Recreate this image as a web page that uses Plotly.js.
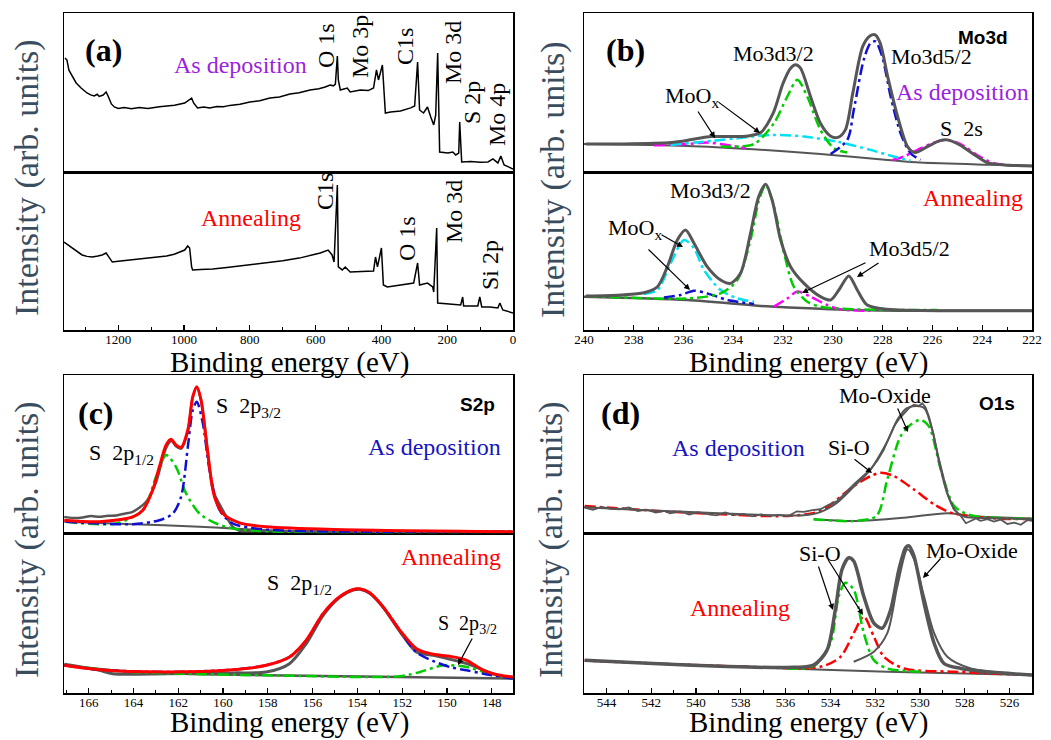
<!DOCTYPE html>
<html><head><meta charset="utf-8">
<script src="https://cdn.plot.ly/plotly-3.0.1.min.js"></script>
<style>body{margin:0;background:#fff}#chart{width:1051px;height:740px}</style>
</head><body><div id="chart"></div>
<script>
// ---------------- DATA (binding energy in eV, intensity in arb. units 0-100 per sub-panel) ----------------
// (a) survey, as deposition
const aTopE=[1362,1356,1350,1340,1328,1313,1295,1284,1273,1264,1258,1246,1237,1231,1221,1212,1200,1182,1160,1136,1110,1075,1050,1029,998,983,977,971,959,940,922,900,880,861,830,800,770,739,710,678,650,617,590,571,556,546,540,534,531,525,504,495,480,464,440,424,415,409,397,388,372,342,311,299,290,284,272,260,250,241,235,229,223,198,183,174,165,162,156,128,100,76,61,46,37,27,12,0];
const aTopI=[71.7,70.4,64,60,56,52.8,49.7,48.5,47.8,48.9,47.5,48.4,50.3,47.8,42.8,40.9,40.0,40.6,39.8,40.5,40.0,41.0,41.3,42.0,43.4,45.3,46.5,43.4,40.3,40.8,40.2,41.2,41.0,41.9,42.6,44.0,44.8,46.5,47.2,49.0,49.8,51.6,52.4,53.5,54.7,54.2,55.3,73,57.9,51.6,52.8,50.3,51.0,51.6,51.2,52.8,64.2,57.9,67.3,37.1,37.7,38.4,40.3,41.5,69.2,39,37.1,40.9,34.6,29.6,35.8,74.8,12.6,11.9,12.6,10.7,11.9,31.4,6.3,6.6,6.2,6.3,8.2,5.7,10,4.4,3.1,1.9];
// (a) survey, annealing
const aBotE=[1365,1340,1319,1310,1295,1279,1262,1249,1237,1227,1218,1200,1180,1157,1120,1090,1053,1030,1014,998,989,983,977,974,950,913,870,830,790,748,700,650,610,586,562,550,544,534,531,519,510,495,460,424,418,412,400,394,382,340,302,290,284,260,244,241,232,229,200,159,153,150,107,101,95,70,46,40,31,15,0];
const aBotI=[55.7,51.9,48.7,47.5,46.6,46.2,46.9,47.5,48.7,45.6,43,43.5,43.9,44.3,45.0,45.8,46.8,48.0,49.4,50.6,53.2,51.9,39.9,38,38.3,38.6,39.6,40.6,41.7,42.4,43.8,45.5,47.4,48.7,50.6,47.5,43,91.8,39.9,38,39.9,36.7,37.0,37.3,46.2,39.9,51.9,28.5,27.2,28.3,29.7,42.4,28.5,29.7,27.2,24,64.6,17.1,16.4,15.8,20.9,15.2,15.2,20.9,14.6,14.5,13.9,17.1,12.7,11.9,10.8];
const aTopLabels=["O 1s","Mo 3p","C1s","Mo 3d","S 2p","Mo 4p"];
const aBotLabels=["C1s","O 1s","Mo 3d","Si 2p"];

// (b) Mo3d, as deposition
const bTopEnvE=[239.93,238.5,236.5,235.6,234.9,234.2,233.4,232.9,232.4,232.0,231.7,231.5,231.3,230.9,230.5,230.1,229.8,229.5,229.2,228.8,228.5,228.3,228.1,227.8,227.4,227.0,226.7,226.2,225.7,225.4,224.9,224.3,223.8,223.1,222.0];
const bTopEnvI=[17.6,17.6,18.5,20.6,22.3,22.3,22.7,24.8,37,55.9,65.3,67.4,65.3,47.5,30.7,22.7,21.8,26.5,49.6,79,85.7,86.3,81.1,60.1,34.9,16,12.2,16,19.7,20.2,17,10.7,5.9,4.4,3.8];
const bTopBgE=[240,235.85,233.2,230.5,227.8,226.5,223.8,222];
const bTopBgI=[17.6,16.4,14.3,11.3,7.6,5.9,4.6,4.0];
const bTopCyanE=[236.52,234.78,233.84,232.5,231.16,229.83,228.49,227.55,226.88];
const bTopCyanI=[17.0,19.7,21.2,23.3,22.3,19.1,13.9,9.7,7.1];
const bTopMagE=[237.19,235.85,235.05,234.24,233.5,null,227.6,227.15,226.48,225.81,225.41,224.87,224.21,223.53,222.73];
const bTopMagI=[16.8,17.6,18.5,17.0,15.0,null,7.6,9.7,14.9,19.1,20.2,17.6,10.7,5.5,4.2];
const bTopGreenE=[234.51,233.17,232.37,231.83,231.43,231.03,230.5,229.96,229.42];
const bTopGreenI=[16.0,17.6,30.7,47.5,58.0,47.5,26.5,14.9,12.2];
const bTopBlueE=[230.09,229.42,229.16,228.76,228.49,228.29,228.02,227.68,227.28,226.88,226.48];
const bTopBlueI=[11.3,20.2,39.1,70.6,81.1,82.1,72.7,47.5,24.4,11.8,7.6];
// (b) Mo3d, annealing
const bBotEnvE=[239.93,238.53,237.59,237.05,236.65,236.25,235.92,235.58,235.05,234.51,234.11,233.71,233.31,232.98,232.70,232.44,232.10,231.70,231.16,230.50,230.09,229.76,229.36,229.02,228.62,227.82,225.14,222];
const bBotEnvI=[21.5,22.2,23.6,27.4,40.1,57.0,63.3,54.9,40.1,31.6,29.5,35.9,61.2,84.4,92.2,82.3,57.0,40.1,29.5,21.1,19.0,25.3,34.2,25.3,15.8,13.1,12.2,12.2];
const bBotBgE=[240,235.85,232.5,229.16,226.48,222];
const bBotBgI=[21.1,19.0,14.8,12.7,12.2,12.2];
const bBotCyanE=[237.59,237.05,236.52,235.98,235.58,235.18,234.51,233.84,233.17];
const bBotCyanI=[22.8,25.3,42.2,57.0,51.7,38.0,25.3,20.0,17.9];
const bBotBlueE=[236.79,236.12,235.58,235.05,234.24,233.17];
const bBotBlueI=[20.5,22.2,24.9,23.2,19.0,16.5];
const bBotGreenE=[239.87,235.85,234.51,233.84,233.31,232.97,232.70,232.37,231.96,231.57,231.03,230.5,229.16,225.81];
const bBotGreenI=[21.5,20.0,23.2,31.6,57.0,82.3,91.8,78.1,48.5,27.4,17.9,14.8,13.1,12.7];
const bBotMagE=[232.37,231.83,231.43,230.90,230.23,229.70,228.49];
const bBotMagI=[14.8,20.0,24.3,21.1,15.8,13.1,12.2];

// (c) S2p, as deposition
const cTopRedE=[167.09,165.52,164.03,163.58,163.14,162.84,162.54,162.32,162.10,161.87,161.57,161.35,161.17,160.98,160.68,160.38,160.01,159.26,158.07,155.08,147.06];
const cTopRedI=[8.4,7.4,10.5,14.7,27.4,42.1,55.8,59.4,55.8,54.3,65.3,86.3,92.6,84.2,50.5,23.2,12.6,6.7,4.2,2.5,1.1];
const cTopGrayE=[167.09,166.7,166.27,165.9,165.52,165.15,164.78,164.4,164.03,163.43,163.0,162.54,162.3,162.1,161.87,161.57,161.35,161.17,160.98,160.68,160.45,160.01,159.56,159.26,158.5,157,155,152,150,147.06];
const cTopGrayI=[10.5,9.8,10.1,11.0,10.5,11.2,11.4,12.5,13.7,20.0,32.0,54.0,58.5,55.0,53.5,64.5,86.0,92.0,84.0,52.0,27.4,14.7,4.2,1.7,1.5,1.3,1.2,1.1,1.1,1.0];
const cTopBgE=[167.09,164.03,161.05,159.56,157,147.06];
const cTopBgI=[7.4,5.9,4.2,3.2,1.5,1.1];
const cTopGreenE=[167.01,164.78,163.58,162.99,162.54,162.10,161.65,161.05,160.30,159.26,147.06];
const cTopGreenI=[7.4,6.3,14.7,35.8,49.5,42.1,25.3,12.6,6.3,2.5,1.1];
const cTopBlueE=[167.01,164.03,162.84,162.24,161.87,161.57,161.35,161.17,160.90,160.60,160.15,159.56,158.07,147.06];
const cTopBlueI=[7.4,5.9,8.4,12.6,23.2,54.7,77.9,83.2,69.5,40.0,14.7,6.3,2.5,1.1];
// (c) S2p, annealing
const cBotRedE=[167.09,165.52,162.54,159.56,158.07,157.03,156.28,155.53,154.79,154.19,153.89,153.45,152.85,152.10,151.36,150.61,149.87,149.12,148.37,147.63,147.06];
const cBotRedI=[17.4,14.6,13.2,14.6,17.4,22.6,33.1,49.8,60.3,64.9,65.3,62.8,54.0,39.3,27.8,24.3,23.0,20.5,14.2,11.1,10.0];
const cBotBlueE=[167.09,165.52,162.54,159.56,158.07,157.03,156.28,155.53,154.79,154.19,153.89,153.45,152.85,152.10,151.36,150.61,149.87,149.12,148.37,147.06];
const cBotBlueI=[17.4,14.6,13.2,14.6,17.4,22.6,33.1,49.8,60.3,64.9,65.3,62.8,54.0,39.3,25.5,20.0,16.3,14.2,12.1,9.0];
const cBotGrayE=[167.09,165.52,164.93,162.54,159.56,158.07,157.03,156.28,155.53,154.79,154.19,153.89,153.45,152.85,152.10,151.36,150.61,149.12,147.63,147.06];
const cBotGrayI=[18.0,14.2,12.1,12.1,12.6,13.2,18.4,31.0,48.7,60.0,64.5,65.0,62.5,53.8,38.5,25.7,23.6,18.4,10.5,10.0];
const cBotBgE=[167.09,164.03,158.07,147.06];
const cBotBgI=[17.4,13.2,11.1,9.0];
const cBotGreenE=[167.09,164.03,158.07,152.1,151.2,150.15,149.12,148.37,147.06];
const cBotGreenI=[17.4,13.2,11.1,10.5,13.2,17.4,16.3,13.2,9.0];

// (d) O1s, as deposition
const dTopDataE=[544.97,544.6,544.2,543.8,543.4,543.0,542.6,542.2,541.8,541.4,541.16,540.7,540.3,539.9,539.5,539.1,538.7,538.3,537.9,537.5,537.1,536.7,536.3,535.9,535.5,535.19,534.8,534.45,534.1,533.7,533.3,532.96,532.6,532.21,531.9,531.61,531.4,531.16,530.95,530.72,530.5,530.27,530.05,529.9,529.75,529.6,529.4,529.22,529.0,528.78,528.5,528.18,527.95,527.73,527.5,527.3,526.99,526.7,526.4,526.1,525.79,525.5,525.2,524.97];
const dTopDataI=[16.3,15.0,16.8,15.5,15.3,16.5,14.2,15.0,13.2,14.3,12.8,13.9,12.0,13.5,12.2,11.5,13.3,11.6,12.4,10.8,12.0,11.1,11.8,10.9,14.0,13.6,14.8,15.3,18.0,20.5,26.0,31.0,35.5,40.4,46.0,52.9,60.0,67.6,72.0,75.9,79.0,81.2,80.5,82.2,79.5,73.8,63.0,50.8,38.0,25.7,15.5,11.1,6.5,7.9,9.5,8.0,9.0,7.5,8.8,6.0,6.9,5.5,8.5,7.9];
const dTopFitE=[545,542,539,536.5,535.2,534.45,533.7,532.96,532.2,531.46,531.0,530.6,530.15,529.8,529.45,529.1,528.78,528.4,528.0,527.0,525];
const dTopFitI=[16.5,14.5,12.8,11.5,11.5,13.5,19.5,29.5,40.5,58.0,72.0,79.0,80.5,79.0,65.0,42.0,25.0,14.0,10.5,9.8,9.2];
const dTopRedE=[544.97,540.42,535.94,534.45,532.96,532.21,531.76,531.16,530.27,529.37,528.63,527,524.97];
const dTopRedI=[17.4,13.2,11.1,14.2,29.9,36.2,38.3,36.2,27.8,18.4,13.2,9.8,9.0];
const dTopGreenE=[534.75,532.96,531.94,531.46,530.87,530.42,529.97,529.60,529.07,528.48,527.73,524.97];
const dTopGreenI=[9.0,7.9,11.1,34.1,61.3,68.6,71.8,67.6,40.4,17.4,11.5,9.4];
const dTopBgE=[534.75,532.96,530.72,528.78,527.73,524.97];
const dTopBgI=[9.0,7.9,10.0,12.8,11.1,9.4];
// (d) O1s, annealing
const dBotEnvE=[544.97,541.91,538.93,535.94,534.75,534.15,533.78,533.48,533.18,532.96,532.51,532.06,531.69,531.31,530.94,530.64,530.49,530.27,529.82,529.37,528.93,528.18,526.99,524.97];
const dBotEnvI=[20.6,18.5,16.8,16.0,17.5,26.9,52.2,77.5,84.8,82.7,60.6,43.8,40.6,52.2,77.5,91.2,92.2,85.9,56.4,31.2,18.5,15.4,13.3,11.2];
const dBotMoE=[532.96,532.06,531.46,531.01,530.56,530.27,529.82,529.37,528.78,527.73,524.97];
const dBotMoI=[19.6,25.9,37.5,67.0,90.1,84.0,60.6,37.5,22.7,15.4,11.2];
const dBotBgE=[544.97,535.94,531.46,524.97];
const dBotBgI=[20.2,15.4,13.3,11.2];
const dBotGreenE=[535.94,534.75,534.00,533.63,533.33,532.96,532.51,532.06,531.46,529.97];
const dBotGreenI=[15.4,16.8,31.2,60.6,69.1,64.8,37.5,20.6,15.4,13.3];
const dBotRedE=[544.97,538,534.45,533.55,532.96,532.51,532.06,531.61,530.72,528.48,524.97];
const dBotRedI=[20.4,16.6,16.4,22.7,37.5,48.0,35.4,22.7,15.4,13.3,11.2];

// ---------------- STYLE / LAYOUT ----------------
const W=1051,H=740;
const SERIF='Liberation Serif, Times New Roman, serif';
const SANS='Liberation Sans, Arial, sans-serif';
const GRAY='#565656', GREEN='#00cc00', BLUE='#1010d0', CYAN='#00e0f0', MAG='#ff00ff', RED='#ff0000';
const DD='11px,4px,3px,4px';

function tr(x,y,ax,color,width,dash,shape){
  return {x:x,y:y,xaxis:'x'+ax,yaxis:'y'+ax,type:'scatter',mode:'lines',hoverinfo:'skip',showlegend:false,
    connectgaps:false,line:{color:color,width:width,dash:dash||'solid',shape:shape||'spline',smoothing:0.8}};
}
// axis ids: '' a-bottom,2 a-top,3 b-bottom,4 b-top,5 c-bottom,6 c-top,7 d-bottom,8 d-top
const traces=[
  tr(aTopE,aTopI,'2','#000',1.5,null,'linear'),
  tr(aBotE,aBotI,'','#000',1.5,null,'linear'),

  tr(bTopBgE,bTopBgI,'4',GRAY,2),
  tr(bTopMagE,bTopMagI,'4',MAG,2.5,DD),
  tr(bTopCyanE,bTopCyanI,'4',CYAN,2.5,DD),
  tr(bTopGreenE,bTopGreenI,'4',GREEN,2.5,DD),
  tr(bTopBlueE,bTopBlueI,'4',BLUE,2.5,DD),
  tr(bTopEnvE,bTopEnvI,'4',GRAY,3),

  tr(bBotBgE,bBotBgI,'3',GRAY,2.5),
  tr(bBotMagE,bBotMagI,'3',MAG,2.5,DD),
  tr(bBotBlueE,bBotBlueI,'3',BLUE,2.5,DD),
  tr(bBotCyanE,bBotCyanI,'3',CYAN,2.5,DD),
  tr(bBotGreenE,bBotGreenI,'3',GREEN,2.5,DD),
  tr(bBotEnvE,bBotEnvI,'3',GRAY,3),

  tr(cTopBgE,cTopBgI,'6',GRAY,2),
  tr(cTopGrayE,cTopGrayI,'6',GRAY,2.5),
  tr(cTopGreenE,cTopGreenI,'6',GREEN,2.5,DD),
  tr(cTopBlueE,cTopBlueI,'6',BLUE,2.5,DD),
  tr(cTopRedE,cTopRedI,'6',RED,3),

  tr(cBotBgE,cBotBgI,'5',GRAY,2.5),
  tr(cBotGrayE,cBotGrayI,'5',GRAY,3),
  tr(cBotGreenE,cBotGreenI,'5',GREEN,2.5,DD),
  tr(cBotBlueE,cBotBlueI,'5',BLUE,2.5,DD),
  tr(cBotRedE,cBotRedI,'5',RED,3),

  tr(dTopBgE,dTopBgI,'8',GRAY,2),
  tr(dTopRedE,dTopRedI,'8',RED,2.5,DD),
  tr(dTopGreenE,dTopGreenI,'8',GREEN,2.5,DD),
  tr(dTopFitE,dTopFitI,'8',GRAY,2),
  tr(dTopDataE,dTopDataI,'8',GRAY,1.8,null,'linear'),

  tr(dBotBgE,dBotBgI,'7',GRAY,2),
  tr(dBotRedE,dBotRedI,'7',RED,2.5,DD),
  tr(dBotGreenE,dBotGreenI,'7',GREEN,2.5,DD),
  tr(dBotMoE,dBotMoI,'7',GRAY,2),
  tr(dBotEnvE,dBotEnvI,'7',GRAY,3.5)
];

function dx(p0,p1){return [p0/W,p1/W];}
function dy(p0,p1){return [1-p1/H,1-p0/H];}
const colA=dx(64,513), colB=dx(584,1032);
const rTT=dy(13,172), rTB=dy(172,330), rBT=dy(375,533.5), rBB=dy(533.5,693);

function xBottom(dom,anchor,range,dt,mdt){
  return {domain:dom,anchor:anchor,range:range,autorange:false,showgrid:false,zeroline:false,
    showline:true,mirror:true,linecolor:'#000',linewidth:1.5,
    ticks:'inside',ticklen:5,tickwidth:1.2,tickcolor:'#000',dtick:dt,tick0:0,ticklabelstandoff:-3,
    minor:{ticks:'inside',ticklen:3,tickwidth:1,tickcolor:'#000',dtick:mdt,showgrid:false},
    tickfont:{family:SERIF,size:13,color:'#000'},fixedrange:true};
}
function xTop(dom,anchor,match,range){
  return {domain:dom,anchor:anchor,matches:match,range:range,showgrid:false,zeroline:false,
    showline:true,mirror:true,linecolor:'#000',linewidth:1.5,ticks:'',showticklabels:false,fixedrange:true};
}
function yAx(dom,anchor){
  return {domain:dom,anchor:anchor,range:[0,100],showgrid:false,zeroline:false,showline:true,mirror:true,
    linecolor:'#000',linewidth:1.5,ticks:'',showticklabels:false,fixedrange:true};
}

const ann=[];
function txt(x,y,text,family,size,color,extra){
  ann.push(Object.assign({xref:'paper',yref:'paper',x:x/W,y:1-y/H,xanchor:'center',yanchor:'middle',
    text:text,showarrow:false,font:{family:family,size:size,color:color}},extra||{}));
}
function arr(x0,y0,x1,y1){
  ann.push({xref:'paper',yref:'paper',x:x1/W,y:1-y1/H,ax:x0-x1,ay:y0-y1,axref:'pixel',ayref:'pixel',
    text:'',showarrow:true,arrowhead:2,arrowsize:1,arrowwidth:1.2,arrowcolor:'#000'});
}
const YT='#3a4d5e';
const L=22; // label size
// axis titles
txt(289,362,'Binding energy (eV)',SERIF,29,'#000');
txt(808,362,'Binding energy (eV)',SERIF,29,'#000');
txt(289,722,'Binding energy (eV)',SERIF,29,'#000');
txt(808,722,'Binding energy (eV)',SERIF,29,'#000');
txt(27,178,'Intensity (arb. units)',SERIF,34,YT,{textangle:-90});
txt(553,180,'Intensity (arb. units)',SERIF,34,YT,{textangle:-90});
txt(27,540,'Intensity (arb. units)',SERIF,34,YT,{textangle:-90});
txt(551,540,'Intensity (arb. units)',SERIF,34,YT,{textangle:-90});
// panel letters
const B=(s)=>'<b>'+s+'</b>';
txt(103,50,B('(a)'),SERIF,32,'#000');
txt(625,50,B('(b)'),SERIF,32,'#000');
txt(96,413,B('(c)'),SERIF,32,'#000');
txt(620,413,B('(d)'),SERIF,32,'#000');
txt(983,37,B('Mo3d'),SANS,19,'#000');
txt(477,405,B('S2p'),SANS,19,'#000');
txt(997,403,B('O1s'),SANS,19,'#000');
// (a)
txt(240,65,'As deposition',SERIF,24,'#9b1fe0');
txt(251,218,'Annealing',SERIF,24,'#ff0000');
const aTopPos=[[326,46],[360,47],[405,47],[453,53],[472,103],[497,115]];
aTopLabels.forEach((s,i)=>txt(aTopPos[i][0],aTopPos[i][1],s,SERIF,24,'#000',{textangle:-90}));
const aBotPos=[[325,192],[407,239],[454,212],[490,265]];
aBotLabels.forEach((s,i)=>txt(aBotPos[i][0],aBotPos[i][1],s,SERIF,24,'#000',{textangle:-90}));
// (b)
txt(773,53,'Mo3d3/2',SERIF,L,'#000');
txt(931,57,'Mo3d5/2',SERIF,L,'#000');
txt(962,92,'As deposition',SERIF,24,'#9b1fe0');
txt(692,97,'MoO<sub>x</sub>',SERIF,L,'#000');
txt(961,128,'S  2s',SERIF,L,'#000');
arr(717,101,760,133); arr(697,110,715,138);
txt(710,190,'Mo3d3/2',SERIF,L,'#000');
txt(973,198,'Annealing',SERIF,24,'#ff0000');
txt(635,229,'MoO<sub>x</sub>',SERIF,L,'#000');
arr(660,234,683,247); arr(647,248,690,290);
txt(909,248,'Mo3d5/2',SERIF,L,'#000');
arr(867,262,802,293); arr(880,262,857,277);
// (c)
txt(248,407,'S  2p<sub>3/2</sub>',SERIF,L,'#000');
txt(121,454,'S  2p<sub>1/2</sub>',SERIF,L,'#000');
txt(434,447,'As deposition',SERIF,24,'#1515c0');
txt(451,557,'Annealing',SERIF,24,'#ff0000');
txt(299,584,'S  2p<sub>1/2</sub>',SERIF,L,'#000');
txt(467,624,'S  2p<sub>3/2</sub>',SERIF,20,'#000');
arr(473,637,458,665);
// (d)
txt(885,395,'Mo-Oxide',SERIF,L,'#000');
arr(897,407,908,432);
txt(738,448,'As deposition',SERIF,24,'#1515c0');
txt(849,447,'Si-O',SERIF,L,'#000');
arr(853,458,872,473);
txt(820,553,'Si-O',SERIF,L,'#000');
arr(818,565,833,610); arr(827,558,863,615);
txt(972,550,'Mo-Oxide',SERIF,L,'#000');
arr(942,557,923,578);
txt(740,608,'Annealing',SERIF,24,'#ff0000');

const rA=[1365,0], rB=[240,222], rC=[167.1,147.05], rD=[545,525];
const layout={
  width:W,height:H,margin:{l:0,r:0,t:0,b:0},paper_bgcolor:'#fff',plot_bgcolor:'#fff',showlegend:false,
  xaxis:xBottom(colA,'y',rA,200,100),   yaxis:yAx(rTB,'x'),
  xaxis2:xTop(colA,'y2','x',rA),       yaxis2:yAx(rTT,'x2'),
  xaxis3:xBottom(colB,'y3',rB,2,1),     yaxis3:yAx(rTB,'x3'),
  xaxis4:xTop(colB,'y4','x3',rB),      yaxis4:yAx(rTT,'x4'),
  xaxis5:xBottom(colA,'y5',rC,2,1),     yaxis5:yAx(rBB,'x5'),
  xaxis6:xTop(colA,'y6','x5',rC),      yaxis6:yAx(rBT,'x6'),
  xaxis7:xBottom(colB,'y7',rD,2,1),     yaxis7:yAx(rBB,'x7'),
  xaxis8:xTop(colB,'y8','x7',rD),      yaxis8:yAx(rBT,'x8'),
  annotations:ann
};
Plotly.newPlot('chart',traces,layout,{staticPlot:true,displayModeBar:false});
</script></body></html>
